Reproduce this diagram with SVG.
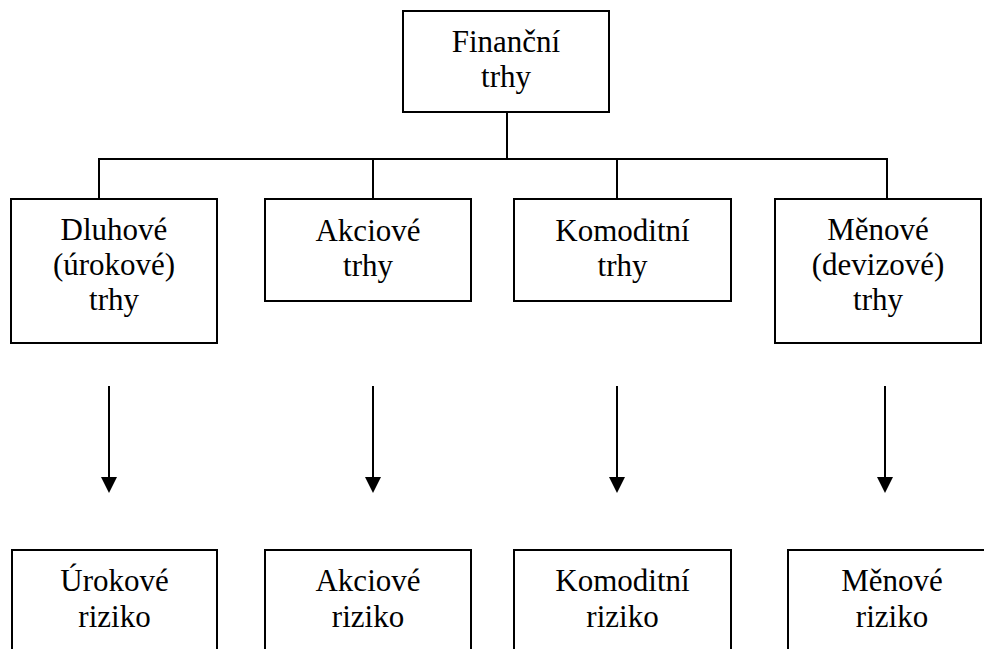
<svg xmlns="http://www.w3.org/2000/svg" width="984" height="649" viewBox="0 0 984 649">
  <style>
    .box { fill: #fff; stroke: #000; stroke-width: 2; }
    .wire { fill: none; stroke: #000; stroke-width: 2; }
    text { font-family: "Liberation Serif", "Times New Roman", serif; font-size: 31px; fill: #000; text-anchor: middle; }
  </style>
  <rect width="984" height="649" fill="#fff"/>

  <!-- tree lines and arrows -->
  <g id="connectors">
    <path class="wire" d="M507,112 V159 M99,199 V159 H887 V199 M373,159 V199 M617,159 V199"/>
    <line class="wire" x1="109" y1="386" x2="109" y2="477"/>
    <line class="wire" x1="373" y1="386" x2="373" y2="477"/>
    <line class="wire" x1="617" y1="386" x2="617" y2="477"/>
    <line class="wire" x1="885" y1="386" x2="885" y2="477"/>
    <path d="M101,477 H117 L109,493 Z M365,477 H381 L373,493 Z M609,477 H625 L617,493 Z M877,477 H893 L885,493 Z" fill="#000"/>
  </g>

  <g id="financni-trhy">
    <rect class="box" x="403" y="11" width="206" height="101"/>
    <text x="506" y="52">Finanční</text>
    <text x="506" y="87">trhy</text>
  </g>

  <g id="dluhove-trhy">
    <rect class="box" x="11" y="199" width="206" height="144"/>
    <text x="114" y="240">Dluhové</text>
    <text x="114" y="275">(úrokové)</text>
    <text x="114" y="310">trhy</text>
  </g>

  <g id="akciove-trhy">
    <rect class="box" x="265" y="199" width="206" height="102"/>
    <text x="368" y="241">Akciové</text>
    <text x="368" y="276">trhy</text>
  </g>

  <g id="komoditni-trhy">
    <rect class="box" x="514" y="199" width="217" height="102"/>
    <text x="622.5" y="241">Komoditní</text>
    <text x="622.5" y="276">trhy</text>
  </g>

  <g id="menove-trhy">
    <rect class="box" x="775" y="199" width="206" height="144"/>
    <text x="878" y="240">Měnové</text>
    <text x="878" y="275">(devizové)</text>
    <text x="878" y="310">trhy</text>
  </g>

  <g id="urokove-riziko">
    <rect class="box" x="12" y="550" width="205" height="150"/>
    <text x="114.5" y="591">Úrokové</text>
    <text x="114.5" y="627">riziko</text>
  </g>

  <g id="akciove-riziko">
    <rect class="box" x="265" y="550" width="206" height="150"/>
    <text x="368" y="591">Akciové</text>
    <text x="368" y="627">riziko</text>
  </g>

  <g id="komoditni-riziko">
    <rect class="box" x="514" y="550" width="217" height="150"/>
    <text x="622.5" y="591">Komoditní</text>
    <text x="622.5" y="627">riziko</text>
  </g>

  <g id="menove-riziko">
    <rect class="box" x="788" y="550" width="208" height="150"/>
    <text x="892" y="591">Měnové</text>
    <text x="892" y="627">riziko</text>
  </g>
</svg>
